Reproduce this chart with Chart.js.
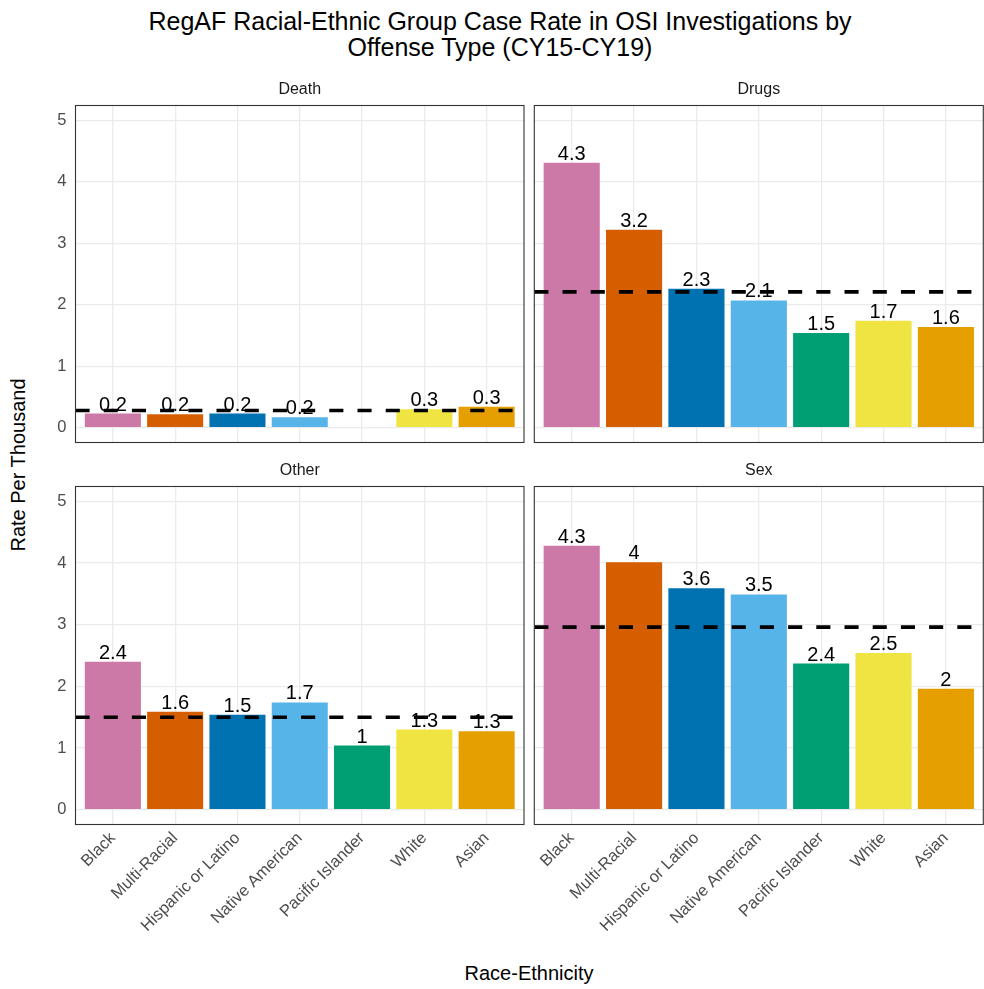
<!DOCTYPE html>
<html>
<head>
<meta charset="utf-8">
<script src="https://cdn.jsdelivr.net/npm/chart.js@4.4.1/dist/chart.umd.min.js"></script>
<style>
  html, body { margin: 0; padding: 0; background: #fff; }
  body { width: 984px; height: 989px; position: relative; overflow: hidden; font-family: "Liberation Sans", Arial, sans-serif; }
  canvas { position: absolute; }
  .txt { position: absolute; color: #000; white-space: nowrap; }
  #title { left: 0; width: 1000px; top: 8px; text-align: center; font-size: 25px; line-height: 26px; }
  #xtitle { left: 429px; width: 200px; top: 961px; text-align: center; font-size: 20px; line-height: 24px; }
  #ytitle { left: -82px; top: 453px; width: 200px; text-align: center; font-size: 20px; line-height: 24px; transform: rotate(-90deg); }
</style>
</head>
<body>
<div id="title" class="txt">RegAF Racial-Ethnic Group Case Rate in OSI Investigations by<br>Offense Type (CY15-CY19)</div>
<div id="ytitle" class="txt">Rate Per Thousand</div>
<div id="xtitle" class="txt">Race-Ethnicity</div>

<canvas id="death" width="530" height="380" style="left:0;top:70px"></canvas>
<canvas id="drugs" width="454" height="380" style="left:530px;top:70px"></canvas>
<canvas id="other" width="530" height="538" style="left:0;top:451px"></canvas>
<canvas id="sex" width="454" height="538" style="left:530px;top:451px"></canvas>

<script>
const RACES = ["Black", "Multi-Racial", "Hispanic or Latino", "Native American", "Pacific Islander", "White", "Asian"];
const BAR_COLORS = ["#CC79A7", "#D55E00", "#0072B2", "#56B4E9", "#009E73", "#F0E442", "#E69F00"];

const DEATH_RATES = [0.23, 0.22, 0.23, 0.17, null, 0.30, 0.34];
const DRUGS_RATES = [4.31, 3.22, 2.26, 2.07, 1.54, 1.74, 1.64];
const OTHER_RATES = [2.40, 1.59, 1.54, 1.74, 1.04, 1.30, 1.27];
const SEX_RATES = [4.28, 4.01, 3.59, 3.49, 2.37, 2.54, 1.96];

// overall rate per offense type (dashed line)
const MEAN_RATES = { Death: 0.28, Drugs: 2.21, Other: 1.50, Sex: 2.96 };

const Y_MIN = -0.24;
const Y_MAX = 5.24;

Chart.defaults.font.family = '"Liberation Sans", Arial, sans-serif';

function fmt(v) {
  return String(Math.round(v * 10) / 10);
}

const panelBorder = {
  id: "panelBorder",
  afterDraw(chart) {
    const { ctx, chartArea: a } = chart;
    ctx.save();
    ctx.strokeStyle = "#333333";
    ctx.lineWidth = 1.1;
    ctx.strokeRect(a.left, a.top, a.right - a.left, a.bottom - a.top);
    ctx.restore();
  },
};

const meanLine = {
  id: "meanLine",
  afterDatasetsDraw(chart, args, opts) {
    const { ctx, chartArea: a } = chart;
    const y = chart.scales.y.getPixelForValue(opts.value);
    ctx.save();
    ctx.strokeStyle = "#000";
    ctx.lineWidth = 3.6;
    ctx.setLineDash([14.1, 14.1]);
    ctx.beginPath();
    ctx.moveTo(a.left, y);
    ctx.lineTo(a.right, y);
    ctx.stroke();
    ctx.restore();
  },
};

const barLabels = {
  id: "barLabels",
  afterDatasetsDraw(chart) {
    const { ctx } = chart;
    const values = chart.data.datasets[0].data;
    const meta = chart.getDatasetMeta(0);
    ctx.save();
    ctx.fillStyle = "#000";
    ctx.font = '20px "Liberation Sans", Arial, sans-serif';
    ctx.textAlign = "center";
    ctx.textBaseline = "alphabetic";
    meta.data.forEach((bar, i) => {
      const v = values[i].y;
      if (v == null) return;
      ctx.fillText(fmt(v), bar.x, bar.y - 3);
    });
    ctx.restore();
  },
};

function noPadding(scale) {
  scale.paddingTop = 0;
  scale.paddingBottom = 0;
  scale.paddingLeft = 0;
  scale.paddingRight = 0;
}

function makePanel(id, name, rates, showY, showX) {
  const yWidth = showY ? 75.5 : 4.3;
  const xHeight = showX ? 164.5 : 0;
  const padBottom = showX ? 0 : 7.5;
  const padRight = showY ? 6 : 0.7;

  new Chart(document.getElementById(id), {
    type: "bar",
    data: {
      datasets: [
        {
          data: RACES.map((_, i) => ({ x: i, y: rates[i] })),
          backgroundColor: BAR_COLORS,
          borderWidth: 0,
          barPercentage: 0.9,
          categoryPercentage: 1.0,
        },
      ],
    },
    options: {
      responsive: false,
      animation: false,
      devicePixelRatio: 1,
      layout: { padding: { left: 0, right: padRight, top: 0, bottom: padBottom } },
      plugins: {
        legend: { display: false },
        tooltip: { enabled: false },
        title: {
          display: true,
          text: name,
          fullSize: false,
          color: "#1a1a1a",
          font: { size: 16, weight: "normal" },
          padding: { top: 10.4, bottom: 5.9 },
        },
        meanLine: { value: MEAN_RATES[name] },
      },
      scales: {
        x: {
          type: "linear",
          offset: false,
          min: -0.6,
          max: RACES.length - 0.4,
          ticks: {
            stepSize: 1,
            includeBounds: false,
            display: showX,
            autoSkip: false,
            minRotation: 45,
            maxRotation: 45,
            padding: 4,
            color: "#4d4d4d",
            font: { size: 16.5 },
            callback: (v) => RACES[v],
          },
          grid: { color: "#ebebeb", lineWidth: 1.3, drawTicks: false, offset: false },
          border: { display: false },
          afterFit(scale) {
            scale.height = xHeight;
            noPadding(scale);
          },
        },
        y: {
          type: "linear",
          min: Y_MIN,
          max: Y_MAX,
          ticks: {
            stepSize: 1,
            includeBounds: false,
            display: showY,
            padding: 9,
            color: "#4d4d4d",
            font: { size: 16.5 },
          },
          grid: { color: "#ebebeb", lineWidth: 1.3, drawTicks: false },
          border: { display: false },
          afterFit(scale) {
            scale.width = yWidth;
            noPadding(scale);
          },
        },
      },
    },
    plugins: [meanLine, barLabels, panelBorder],
  });
}

makePanel("death", "Death", DEATH_RATES, true, false);
makePanel("drugs", "Drugs", DRUGS_RATES, false, false);
makePanel("other", "Other", OTHER_RATES, true, true);
makePanel("sex", "Sex", SEX_RATES, false, true);
</script>
</body>
</html>
